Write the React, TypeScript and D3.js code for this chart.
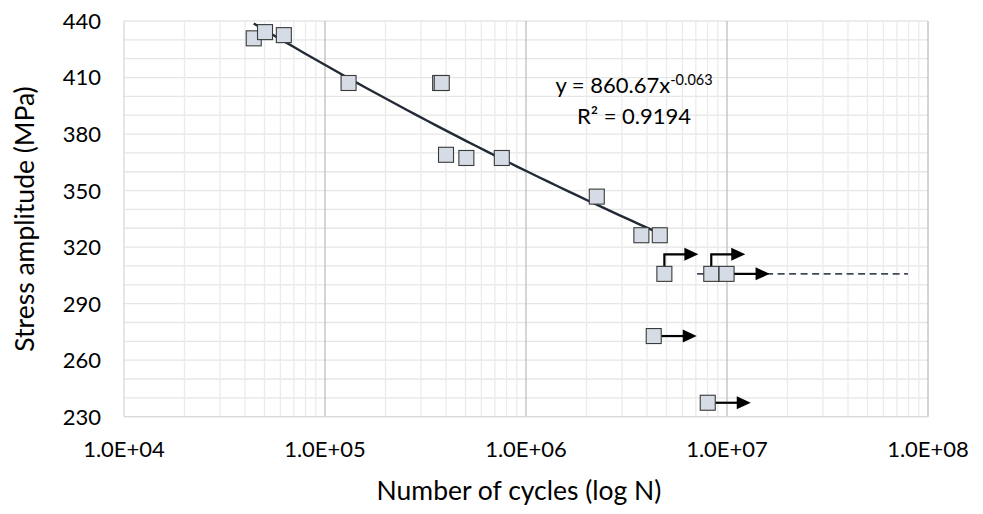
import React, { useEffect, useRef } from "react";
import * as d3 from "d3";

// failed specimens (used for the power fit)
const failedCycles = [4.42e4, 5.03e4, 6.24e4, 1.31e5, 3.74e5, 3.81e5, 4.0e5, 5.05e5, 7.58e5, 2.25e6, 3.75e6, 4.63e6];
const failedStress = [430.8, 434.1, 432.5, 407.1, 407.1, 407.1, 369.0, 367.3, 367.3, 346.8, 326.3, 326.3];

// run-outs (no failure), drawn with an arrow
const runoutCycles = [4.88e6, 8.35e6, 9.95e6, 4.32e6, 8.02e6];
const runoutStress = [305.8, 305.8, 305.8, 272.8, 237.4];
const runoutArrow = ["bent", "bent", "straight", "straight", "straight"];

// endurance limit line
const enduranceCycles = [7.1e6, 7.95e7];
const enduranceStress = 305.8;

// power trend y = a * x^b
const fitA = 860.67;
const fitB = -0.063;
const fitR2 = "0.9194";

const xTicks = [1e4, 1e5, 1e6, 1e7, 1e8];
const yTicks = [230, 260, 290, 320, 350, 380, 410, 440];

const W = 983;
const H = 514;
const FONT = "Lato, 'Open Sans', sans-serif";

const fmtExp = (v: number) => {
  const e = Math.round(Math.log10(v));
  return `1.0E+${String(e).padStart(2, "0")}`;
};

export default function App() {
  const ref = useRef<SVGSVGElement>(null);

  useEffect(() => {
    const svg = d3.select(ref.current);
    svg.selectAll("*").remove();

    const x = d3.scaleLog().domain([1e4, 1e8]).range([124, 928]);
    const y = d3.scaleLinear().domain([230, 440]).range([416.7, 21]);

    const grid = svg.append("g");
    // horizontal grid every 10 MPa
    grid
      .selectAll("line.h")
      .data(d3.range(230, 441, 10))
      .enter()
      .append("line")
      .attr("x1", x(1e4))
      .attr("x2", x(1e8))
      .attr("y1", (d) => y(d))
      .attr("y2", (d) => y(d))
      .attr("stroke", "#e6e6e6")
      .attr("stroke-width", 1.3);

    // minor vertical lines 2..9 per decade
    const minor: number[] = [];
    for (let e = 4; e < 8; e++) for (let m = 2; m <= 9; m++) minor.push(m * Math.pow(10, e));
    grid
      .selectAll("line.vm")
      .data(minor)
      .enter()
      .append("line")
      .attr("x1", (d) => x(d))
      .attr("x2", (d) => x(d))
      .attr("y1", y(230))
      .attr("y2", y(440))
      .attr("stroke", "#ebebeb")
      .attr("stroke-width", 1.3);

    grid
      .selectAll("line.v")
      .data(xTicks)
      .enter()
      .append("line")
      .attr("x1", (d) => x(d))
      .attr("x2", (d) => x(d))
      .attr("y1", y(230))
      .attr("y2", y(440))
      .attr("stroke", (d) => (d === 1e4 ? "#d9d9d9" : "#bfbfbf"))
      .attr("stroke-width", 1.3);

    // bottom axis line
    grid
      .append("line")
      .attr("x1", x(1e4))
      .attr("x2", x(1e8))
      .attr("y1", y(230))
      .attr("y2", y(230))
      .attr("stroke", "#d9d9d9")
      .attr("stroke-width", 1.3);

    // tick labels
    svg
      .append("g")
      .selectAll("text")
      .data(yTicks)
      .enter()
      .append("text")
      .attr("x", 101)
      .attr("y", (d) => y(d))
      .attr("dy", "0.36em")
      .attr("text-anchor", "end")
      .attr("font-family", FONT)
      .attr("font-size", 22)
      .attr("fill", "#000")
      .text((d) => d);

    svg
      .append("g")
      .selectAll("text")
      .data(xTicks)
      .enter()
      .append("text")
      .attr("x", (d) => x(d))
      .attr("y", 457)
      .attr("text-anchor", "middle")
      .attr("font-family", FONT)
      .attr("font-size", 22)
      .attr("fill", "#000")
      .text(fmtExp);

    // axis titles
    svg
      .append("text")
      .attr("x", 519)
      .attr("y", 500)
      .attr("text-anchor", "middle")
      .attr("font-family", FONT)
      .attr("font-size", 26.5)
      .attr("fill", "#000")
      .text("Number of cycles (log N)");

    svg
      .append("text")
      .attr("transform", "translate(34,219) rotate(-90)")
      .attr("text-anchor", "middle")
      .attr("font-family", FONT)
      .attr("font-size", 26.5)
      .attr("fill", "#000")
      .text("Stress amplitude (MPa)");

    // endurance dashed line
    svg
      .append("line")
      .attr("x1", x(enduranceCycles[0]))
      .attr("x2", x(enduranceCycles[1]))
      .attr("y1", y(enduranceStress))
      .attr("y2", y(enduranceStress))
      .attr("stroke", "#404a57")
      .attr("stroke-width", 1.6)
      .attr("stroke-dasharray", "7,4.5");

    // trend line
    const [n0, n1] = d3.extent(failedCycles) as [number, number];
    const fitPts = d3.range(0, 41).map((i) => {
      const n = Math.pow(10, Math.log10(n0) + (i / 40) * (Math.log10(n1) - Math.log10(n0)));
      return [n, fitA * Math.pow(n, fitB)] as [number, number];
    });
    svg
      .append("path")
      .attr(
        "d",
        d3
          .line<[number, number]>()
          .x((d) => x(d[0]))
          .y((d) => y(d[1]))(fitPts)
      )
      .attr("fill", "none")
      .attr("stroke", "#222a35")
      .attr("stroke-width", 2.4);

    // arrows for run-outs
    const half = 7.5;
    const arrows = svg.append("g");
    const head = (tx: number, ty: number) =>
      arrows
        .append("path")
        .attr("d", `M${tx},${ty} L${tx - 14},${ty - 6.5} L${tx - 14},${ty + 6.5} Z`)
        .attr("fill", "#000");
    runoutCycles.forEach((n, i) => {
      const cx = x(n);
      const cy = y(runoutStress[i]);
      if (runoutArrow[i] === "bent") {
        const top = cy - 19.5;
        const tip = cx + 34;
        arrows
          .append("path")
          .attr("d", `M${cx},${cy - half} L${cx},${top} L${tip - 12},${top}`)
          .attr("fill", "none")
          .attr("stroke", "#000")
          .attr("stroke-width", 2.2);
        head(tip, top);
      } else {
        const tip = cx + 43;
        arrows
          .append("line")
          .attr("x1", cx + half)
          .attr("x2", tip - 12)
          .attr("y1", cy)
          .attr("y2", cy)
          .attr("stroke", "#000")
          .attr("stroke-width", 2.2);
        head(tip, cy);
      }
    });

    // markers
    const pts = failedCycles
      .map((n, i) => [n, failedStress[i]])
      .concat(runoutCycles.map((n, i) => [n, runoutStress[i]]));
    svg
      .append("g")
      .selectAll("rect")
      .data(pts)
      .enter()
      .append("rect")
      .attr("x", (d) => x(d[0]) - half)
      .attr("y", (d) => y(d[1]) - half)
      .attr("width", half * 2)
      .attr("height", half * 2)
      .attr("fill", "#d6dce5")
      .attr("stroke", "#3a3a3a")
      .attr("stroke-width", 1.1);

    // equation label
    const eq = svg
      .append("text")
      .attr("x", 634)
      .attr("y", 93)
      .attr("text-anchor", "middle")
      .attr("font-family", FONT)
      .attr("font-size", 22)
      .attr("fill", "#000");
    eq.append("tspan").text(`y = ${fitA}x`);
    eq.append("tspan").attr("dy", -8).attr("font-size", 14.5).text(`${fitB}`);

    svg
      .append("text")
      .attr("x", 634)
      .attr("y", 124)
      .attr("text-anchor", "middle")
      .attr("font-family", FONT)
      .attr("font-size", 22)
      .attr("fill", "#000")
      .text(`R² = ${fitR2}`);
  }, []);

  return (
    <svg
      ref={ref}
      width={W}
      height={H}
      style={{ position: "absolute", left: 0, top: 0, background: "#fff" }}
    ></svg>
  );
}
